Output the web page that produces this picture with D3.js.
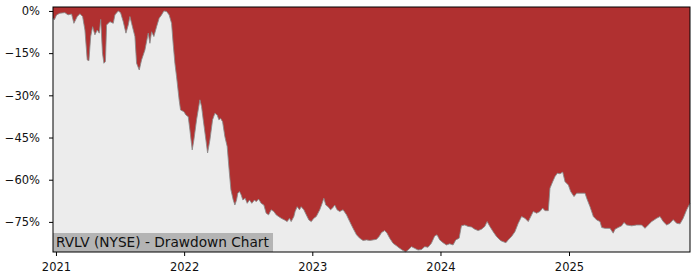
<!DOCTYPE html>
<html>
<head>
<meta charset="utf-8">
<script src="https://cdn.jsdelivr.net/npm/d3@7"></script>
<style>
  body { margin: 0; background: #fff; }
  text { font-family: "DejaVu Sans", sans-serif; }
</style>
</head>
<body>
<svg id="chart" width="700" height="280"></svg>
<script>
// dates as decimal years, drawdown in %
const years = [
  2020.977, 2020.987, 2021.005, 2021.031, 2021.070, 2021.094, 2021.122, 2021.140, 2021.166, 2021.187,
  2021.208, 2021.226, 2021.244, 2021.257, 2021.271, 2021.286, 2021.304, 2021.322, 2021.338, 2021.349,
  2021.363, 2021.374, 2021.386, 2021.395, 2021.421, 2021.447, 2021.460, 2021.486, 2021.504, 2021.525,
  2021.546, 2021.564, 2021.577, 2021.590, 2021.616, 2021.629, 2021.650, 2021.668, 2021.694, 2021.720,
  2021.733, 2021.746, 2021.764, 2021.785, 2021.805, 2021.824, 2021.842, 2021.863, 2021.883, 2021.902,
  2021.915, 2021.928, 2021.941, 2021.961, 2021.972, 2021.998, 2022.014, 2022.032, 2022.045, 2022.063,
  2022.076, 2022.097, 2022.123, 2022.136, 2022.149, 2022.170, 2022.183, 2022.201, 2022.222, 2022.240,
  2022.258, 2022.271, 2022.284, 2022.300, 2022.318, 2022.336, 2022.351, 2022.365, 2022.383, 2022.396,
  2022.409, 2022.419, 2022.432, 2022.445, 2022.458, 2022.476, 2022.492, 2022.510, 2022.528, 2022.549,
  2022.562, 2022.581, 2022.601, 2022.622, 2022.640, 2022.659, 2022.679, 2022.700, 2022.718, 2022.737,
  2022.757, 2022.783, 2022.804, 2022.822, 2022.835, 2022.856, 2022.866, 2022.882, 2022.900, 2022.913,
  2022.934, 2022.953, 2022.973, 2022.992, 2023.012, 2023.031, 2023.058, 2023.072, 2023.090, 2023.105,
  2023.123, 2023.142, 2023.158, 2023.175, 2023.193, 2023.214, 2023.240, 2023.267, 2023.292, 2023.318,
  2023.345, 2023.370, 2023.396, 2023.423, 2023.448, 2023.474, 2023.501, 2023.521, 2023.540, 2023.565,
  2023.583, 2023.604, 2023.630, 2023.657, 2023.682, 2023.708, 2023.729, 2023.747, 2023.774, 2023.799,
  2023.825, 2023.852, 2023.877, 2023.903, 2023.929, 2023.955, 2023.973, 2023.994, 2024.020, 2024.046,
  2024.072, 2024.098, 2024.119, 2024.145, 2024.163, 2024.189, 2024.215, 2024.241, 2024.267, 2024.293,
  2024.319, 2024.345, 2024.363, 2024.384, 2024.410, 2024.436, 2024.462, 2024.475, 2024.509, 2024.527,
  2024.553, 2024.579, 2024.605, 2024.631, 2024.657, 2024.683, 2024.709, 2024.722, 2024.748, 2024.774,
  2024.795, 2024.813, 2024.839, 2024.852, 2024.873, 2024.891, 2024.909, 2024.930, 2024.951, 2024.969,
  2024.995, 2025.013, 2025.039, 2025.060, 2025.086, 2025.125, 2025.138, 2025.164, 2025.190, 2025.216,
  2025.242, 2025.255, 2025.281, 2025.320, 2025.345, 2025.359, 2025.384, 2025.411, 2025.429, 2025.450,
  2025.489, 2025.528, 2025.567, 2025.593, 2025.618, 2025.645, 2025.684, 2025.710, 2025.735, 2025.762,
  2025.788, 2025.813, 2025.840, 2025.866, 2025.891, 2025.918, 2025.944
];
const drawdown = [
  -2.5, -3.2, -1.4, -0.8, -0.6, -1.4, -1.1, -4.4, -2.0, -1.0,
  -2.0, -6.8, -17.4, -17.7, -9.1, -5.6, -8.5, -6.8, -7.9, -3.0,
  -15.0, -18.6, -18.0, -5.0, -3.8, -4.4, -1.4, 0.0, -0.6, -3.8,
  -7.9, -5.0, -2.0, -4.4, -9.1, -18.6, -21.0, -17.4, -13.9, -7.9,
  -11.5, -7.4, -9.1, -5.6, -2.6, -1.4, 0.0, -0.2, -1.4, -4.4,
  -12.0, -18.6, -23.4, -31.6, -35.2, -35.8, -37.0, -37.6, -42.3, -49.4,
  -45.9, -38.7, -31.6, -34.0, -38.7, -45.9, -50.5, -45.9, -38.7, -36.4,
  -37.0, -38.7, -38.2, -39.4, -44.7, -48.2, -56.5, -63.6, -67.2, -69.0,
  -67.2, -64.8, -64.2, -65.4, -67.2, -66.6, -68.4, -67.2, -68.4, -67.2,
  -67.8, -66.9, -68.4, -69.0, -71.9, -72.5, -70.7, -71.3, -72.5, -73.1,
  -73.7, -74.3, -74.9, -73.7, -74.9, -73.1, -71.3, -69.6, -70.7, -69.6,
  -70.7, -72.5, -74.3, -74.9, -73.7, -73.1, -70.7, -69.0, -66.6, -69.0,
  -69.6, -70.7, -70.1, -69.0, -70.7, -71.3, -70.7, -72.5, -74.9, -77.3,
  -79.6, -80.8, -81.6, -81.4, -81.6, -81.4, -81.2, -80.2, -78.8, -78.1,
  -79.0, -80.8, -82.6, -83.5, -84.4, -85.2, -85.6, -85.0, -83.8, -84.4,
  -85.0, -84.8, -83.8, -84.0, -82.6, -80.0, -79.6, -81.4, -82.4, -83.2,
  -82.8, -83.2, -81.4, -80.8, -76.4, -76.1, -76.6, -76.8, -77.6, -78.1,
  -77.6, -76.6, -74.9, -76.6, -78.5, -80.2, -81.4, -81.8, -82.4, -81.4,
  -80.2, -78.5, -75.5, -73.1, -73.7, -74.9, -72.5, -71.3, -71.9, -71.3,
  -70.1, -71.0, -71.0, -63.0, -60.7, -58.9, -57.7, -57.9, -57.3, -60.7,
  -61.9, -64.2, -66.0, -64.8, -64.8, -64.8, -66.6, -69.6, -73.1, -74.3,
  -74.9, -77.0, -77.3, -77.3, -79.0, -77.6, -77.0, -76.4, -75.2, -76.1,
  -76.4, -76.1, -76.1, -77.3, -76.1, -74.9, -73.7, -73.1, -74.9, -76.1,
  -75.5, -74.2, -75.5, -75.7, -73.7, -70.7, -68.4
];
const yTicks = [0, -15, -30, -45, -60, -75];
const xTickYears = [2021, 2022, 2023, 2024, 2025];
const title = "RVLV (NYSE) - Drawdown Chart";

// decimal year -> Date
const toDate = (y) => {
  const yr = Math.floor(y);
  const t0 = Date.UTC(yr, 0, 1), t1 = Date.UTC(yr + 1, 0, 1);
  return new Date(t0 + (y - yr) * (t1 - t0));
};

const data = years.map((y, i) => ({ date: toDate(y), dd: drawdown[i] }));

const margin = { top: 7, right: 10, bottom: 28, left: 53 };
const width = 700, height = 280;
const innerW = width - margin.left - margin.right;
const innerH = height - margin.top - margin.bottom;

const svg = d3.select("#chart");
const g = svg.append("g").attr("transform", `translate(${margin.left},${margin.top})`);

const x = d3.scaleUtc()
  .domain([toDate(years[0]), toDate(years[years.length - 1])])
  .range([0, innerW]);
const y = d3.scaleLinear().domain([-85.7, 1.4]).range([innerH, 0]);

// background
g.append("rect").attr("width", innerW).attr("height", innerH).attr("fill", "#ececec");

// red area from top down to drawdown curve
const area = d3.area()
  .x((d) => x(d.date))
  .y0(0)
  .y1((d) => y(d.dd));
g.append("path").datum(data).attr("d", area).attr("fill", "#b03030");

const line = d3.line().x((d) => x(d.date)).y((d) => y(d.dd));
g.append("path").datum(data).attr("d", line)
  .attr("fill", "none").attr("stroke", "#8a8a8a").attr("stroke-width", 1).attr("opacity", 0.85);

// title box
const titleG = g.append("g").attr("transform", `translate(0,${innerH - 19})`);
titleG.append("rect").attr("width", 220).attr("height", 19).attr("fill", "#b4b4b4");
titleG.append("text").attr("x", 3).attr("y", 14).attr("font-size", "13.7px").attr("fill", "#111").text(title);

// axes
const fmtPct = (d) => (d < 0 ? "\u2212" + Math.abs(d) : d) + "%";
const yAxis = d3.axisLeft(y).tickValues(yTicks).tickFormat(fmtPct).tickSize(4).tickPadding(9);
const xAxis = d3.axisBottom(x).tickValues(xTickYears.map((yr) => new Date(Date.UTC(yr, 0, 1))))
  .tickFormat(d3.utcFormat("%Y")).tickSize(4).tickPadding(7);

g.append("g").call(yAxis)
  .call((s) => s.select(".domain").remove())
  .selectAll("text").attr("font-size", "11.5px").attr("fill", "#111").attr("font-family", "DejaVu Sans");
g.append("g").attr("transform", `translate(0,${innerH})`).call(xAxis)
  .call((s) => s.select(".domain").remove())
  .selectAll("text").attr("font-size", "11.5px").attr("fill", "#111").attr("font-family", "DejaVu Sans");

// frame
g.append("rect").attr("width", innerW).attr("height", innerH)
  .attr("fill", "none").attr("stroke", "#000").attr("stroke-width", 1);
</script>
</body>
</html>
